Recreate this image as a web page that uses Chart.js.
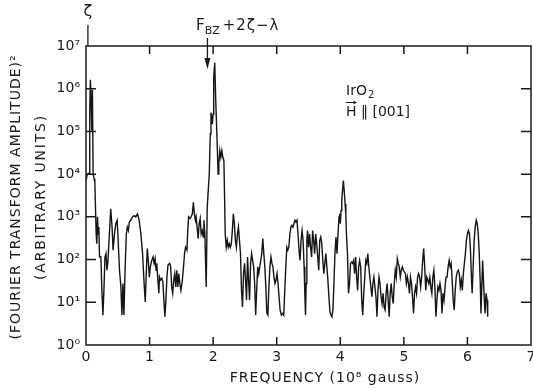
<!DOCTYPE html>
<html>
<head>
<meta charset="utf-8">
<script src="https://cdn.jsdelivr.net/npm/chart.js@4.4.1/dist/chart.umd.min.js"></script>
<style>
html,body{margin:0;padding:0;background:#fff;}
#wrap{width:533px;height:389px;position:relative;}
</style>
</head>
<body>
<div id="wrap"><canvas id="c" width="533" height="389"></canvas></div>
<script>
// Frequency (10^8 gauss)
const frequency = [
0.000,0.021,0.048,0.059,0.069,0.080,0.091,0.101,0.112,0.128,0.139,0.149,0.160,0.170,0.181,0.192,0.202,0.213,0.234,0.250,
0.266,0.282,0.298,0.314,0.330,0.346,0.368,0.389,0.410,0.426,0.448,0.469,0.490,0.506,0.527,0.549,0.565,0.581,0.597,0.613,
0.634,0.650,0.666,0.682,0.703,0.730,0.757,0.783,0.810,0.836,0.863,0.890,0.911,0.932,0.948,0.964,0.980,0.996,1.012,1.034,
1.055,1.071,1.087,1.103,1.114,1.130,1.146,1.156,1.172,1.193,1.209,1.225,1.241,1.257,1.273,1.289,1.316,1.332,1.348,1.364,
1.380,1.396,1.412,1.428,1.444,1.460,1.476,1.492,1.513,1.534,1.550,1.566,1.588,1.598,1.614,1.636,1.652,1.673,1.689,1.705,
1.721,1.732,1.748,1.764,1.780,1.796,1.812,1.828,1.844,1.854,1.870,1.891,1.907,1.923,1.939,1.955,1.966,1.977,1.987,1.998,
2.009,2.025,2.041,2.062,2.078,2.089,2.105,2.121,2.137,2.153,2.169,2.179,2.190,2.206,2.222,2.238,2.254,2.270,2.286,2.302,
2.318,2.334,2.350,2.366,2.382,2.398,2.414,2.430,2.446,2.462,2.478,2.494,2.510,2.525,2.541,2.557,2.573,2.589,2.605,2.621,
2.637,2.653,2.669,2.685,2.701,2.717,2.733,2.749,2.765,2.781,2.797,2.813,2.829,2.845,2.861,2.877,2.893,2.909,2.925,2.941,
2.957,2.973,2.989,3.005,3.021,3.037,3.053,3.074,3.095,3.111,3.127,3.143,3.159,3.175,3.191,3.207,3.223,3.239,3.255,3.271,
3.287,3.303,3.319,3.335,3.351,3.367,3.383,3.399,3.415,3.431,3.442,3.453,3.463,3.474,3.485,3.501,3.517,3.533,3.549,3.565,
3.581,3.597,3.613,3.629,3.645,3.661,3.677,3.693,3.709,3.725,3.741,3.757,3.773,3.789,3.805,3.821,3.837,3.853,3.868,3.884,
3.900,3.916,3.932,3.948,3.964,3.980,3.991,4.001,4.012,4.023,4.039,4.049,4.065,4.076,4.087,4.097,4.113,4.129,4.145,4.161,
4.177,4.193,4.209,4.225,4.241,4.257,4.273,4.289,4.305,4.321,4.337,4.353,4.369,4.385,4.401,4.417,4.433,4.449,4.465,4.481,
4.497,4.513,4.529,4.545,4.561,4.577,4.593,4.609,4.625,4.641,4.657,4.673,4.689,4.705,4.721,4.737,4.753,4.769,4.785,4.801,
4.817,4.833,4.849,4.865,4.881,4.897,4.912,4.928,4.944,4.960,4.976,4.992,5.008,5.024,5.040,5.056,5.072,5.088,5.104,5.120,
5.136,5.152,5.168,5.184,5.200,5.216,5.232,5.248,5.264,5.280,5.296,5.312,5.328,5.344,5.360,5.376,5.392,5.408,5.424,5.440,
5.456,5.472,5.488,5.504,5.520,5.536,5.552,5.568,5.584,5.600,5.616,5.632,5.648,5.664,5.680,5.696,5.712,5.728,5.744,5.760,
5.776,5.792,5.808,5.824,5.840,5.856,5.872,5.888,5.904,5.920,5.936,5.952,5.968,5.984,6.000,6.016,6.032,6.048,6.063,6.074,
6.090,6.106,6.122,6.138,6.154,6.170,6.186,6.202,6.213,6.223,6.239,6.250,6.266,6.277,6.293,6.309,6.319
];
// log10 of (Fourier transform amplitude)^2
const log10Amplitude = [
3.85,4.00,4.02,5.48,6.21,5.72,5.02,5.97,4.00,3.89,3.81,3.23,2.60,2.37,3.00,2.60,2.76,2.06,2.06,1.28,
0.70,1.28,2.06,2.14,1.75,1.98,2.60,3.19,2.76,2.22,2.60,2.84,2.92,2.45,1.75,1.36,0.70,1.44,0.70,1.67,
2.60,2.76,2.68,2.88,2.92,3.00,3.03,3.00,3.07,2.92,2.60,2.14,1.52,1.01,1.67,2.26,1.98,1.59,1.83,1.98,
2.06,1.91,2.02,1.75,1.91,1.52,1.21,1.59,1.52,1.56,1.48,1.05,0.66,1.05,1.59,1.87,1.91,1.83,1.36,1.21,
1.52,1.67,1.36,1.75,1.36,1.67,1.44,1.28,1.48,1.83,2.14,2.29,2.22,2.60,3.00,2.96,3.00,3.07,3.34,3.07,
2.92,3.00,2.76,2.49,2.84,2.96,2.60,2.68,2.53,2.92,2.60,1.36,3.23,3.62,4.00,4.94,5.44,5.33,5.17,5.40,
6.26,6.61,5.72,4.78,4.00,4.24,4.55,4.39,4.55,4.39,4.32,3.54,2.60,2.29,2.45,2.29,2.37,2.29,2.37,2.68,
3.07,2.84,2.45,2.29,2.60,2.76,2.45,2.14,1.28,0.89,1.67,1.91,1.52,1.05,2.06,1.52,1.05,1.91,2.14,1.98,
1.83,1.44,0.70,1.28,1.83,1.67,1.83,1.98,2.14,2.49,2.14,1.83,1.36,0.74,0.70,1.36,1.83,2.06,1.91,1.83,
1.59,1.44,1.52,1.67,1.44,1.13,0.82,0.70,0.74,0.70,1.28,1.83,2.29,2.22,2.29,2.60,2.76,2.80,2.76,2.84,
2.92,2.88,2.92,2.60,2.22,1.98,2.45,2.68,2.45,1.83,1.21,0.70,1.44,2.45,2.68,2.29,2.60,2.29,2.06,2.68,
2.45,2.14,2.60,2.37,2.06,1.75,2.45,2.53,2.37,1.98,1.67,1.91,2.14,1.83,1.52,1.13,0.78,0.70,0.66,0.82,
1.44,2.14,2.53,2.14,2.60,3.00,3.07,2.84,3.15,3.38,3.69,3.85,3.54,3.30,3.07,2.60,2.14,1.21,1.44,1.91,
1.94,1.91,1.98,1.67,2.06,1.59,1.28,1.83,1.98,1.83,1.05,0.70,1.21,1.59,1.98,1.91,2.14,1.83,1.59,1.36,
1.13,1.44,1.59,1.36,1.13,0.66,1.28,1.59,1.44,1.13,0.97,1.21,0.89,0.82,1.21,1.44,1.05,0.66,1.21,1.44,
1.13,0.97,1.44,1.75,1.59,2.02,1.91,1.83,1.59,1.75,1.83,1.75,1.71,1.67,1.44,1.59,1.44,1.21,1.59,1.44,
1.13,0.74,1.21,1.36,1.21,1.59,1.67,1.59,1.36,1.59,1.98,2.26,1.83,1.28,1.59,1.52,1.44,1.59,1.36,1.21,
1.59,1.75,1.36,0.66,1.05,1.36,1.28,1.44,1.28,0.74,1.21,1.05,1.36,1.59,1.59,1.83,1.98,1.83,1.91,1.52,
1.05,0.82,1.28,1.59,1.71,1.75,1.67,1.36,1.52,1.28,1.67,1.91,2.14,2.45,2.60,2.68,2.60,2.22,1.59,1.21,
1.83,2.45,2.76,2.92,2.84,2.60,2.14,1.44,0.74,1.21,1.98,1.59,1.05,0.74,1.21,1.05,0.66
];
const xTickValues = [0,1,2,3,4,5,6,7];
const yTickValues = [1,10,100,1000,10000,100000,1000000,10000000];
const yTickLabels = ['10\u2070','10\u00b9','10\u00b2','10\u00b3','10\u2074','10\u2075','10\u2076','10\u2077'];

const points = frequency.map((f,i)=>({x:f, y:Math.pow(10, log10Amplitude[i])}));
const FONT = '"DejaVu Sans", sans-serif';

const decor = {
  id:'decor',
  afterDraw(chart){
    const {ctx, chartArea:a, scales:{x,y}} = chart;
    ctx.save();
    ctx.strokeStyle = '#1a1a1a';
    ctx.lineWidth = 1.5;
    ctx.strokeRect(a.left, a.top, a.right-a.left, a.bottom-a.top);
    ctx.beginPath();
    xTickValues.slice(1,-1).forEach(v=>{
      const px = x.getPixelForValue(v);
      ctx.moveTo(px, a.bottom); ctx.lineTo(px, a.bottom-8);
      ctx.moveTo(px, a.top); ctx.lineTo(px, a.top+8);
    });
    yTickValues.slice(1,-1).forEach(v=>{
      const py = y.getPixelForValue(v);
      ctx.moveTo(a.left, py); ctx.lineTo(a.left+10, py);
      ctx.moveTo(a.right, py); ctx.lineTo(a.right-10, py);
    });
    ctx.stroke();

    ctx.fillStyle = '#1a1a1a';
    // y axis title (two lines)
    ctx.save();
    ctx.translate(16, 197);
    ctx.rotate(-Math.PI/2);
    ctx.textAlign='center'; ctx.textBaseline='middle';
    ctx.font = '14px '+FONT;
    ctx.letterSpacing = '1px';
    ctx.fillText('(FOURIER TRANSFORM AMPLITUDE)\u00b2', 0, 0);
    ctx.letterSpacing = '1.8px';
    ctx.fillText('(ARBITRARY UNITS)', 0, 25);
    ctx.restore();

    // x axis title
    ctx.textAlign='center'; ctx.textBaseline='middle';
    ctx.font = '14px '+FONT;
    ctx.letterSpacing = '1px';
    ctx.fillText('FREQUENCY (10\u2078 gauss)', 325, 378);
    ctx.letterSpacing = '0px';

    // zeta marker
    const zx = x.getPixelForValue(0.03);
    ctx.font = '16px '+FONT;
    ctx.fillText('\u03b6', zx, 12);
    ctx.beginPath();
    ctx.lineWidth = 1.3;
    ctx.moveTo(zx, 25); ctx.lineTo(zx, a.top);
    ctx.stroke();

    // F_BZ + 2ζ − λ
    ctx.textAlign='left';
    ctx.font = '15px '+FONT;
    let tx = 196;
    ctx.fillText('F', tx, 26);
    tx += ctx.measureText('F').width;
    ctx.font = '11px '+FONT;
    ctx.fillText('BZ', tx, 31);
    tx += ctx.measureText('BZ').width + 3;
    ctx.font = '15px '+FONT;
    ctx.letterSpacing = '1px';
    ctx.fillText('+2\u03b6\u2212\u03bb', tx, 26);
    ctx.letterSpacing = '0px';

    // arrow
    const ax = x.getPixelForValue(1.91);
    ctx.beginPath();
    ctx.moveTo(ax, 38); ctx.lineTo(ax, 66);
    ctx.stroke();
    ctx.beginPath();
    ctx.moveTo(ax-3, 58); ctx.lineTo(ax, 69); ctx.lineTo(ax+3, 58);
    ctx.closePath(); ctx.fill();

    // sample label
    ctx.font = '14px '+FONT;
    ctx.textBaseline='alphabetic';
    ctx.fillText('IrO', 346, 95);
    const w = ctx.measureText('IrO').width;
    ctx.font = '10px '+FONT;
    ctx.fillText('2', 346+w+1, 98);
    ctx.font = '14px '+FONT;
    ctx.fillText('H \u2016 [001]', 346, 116);
    // arrow over H
    const hw = ctx.measureText('H').width;
    ctx.beginPath(); ctx.lineWidth=1;
    ctx.moveTo(346, 102.5); ctx.lineTo(346+hw, 102.5); ctx.stroke();
    ctx.beginPath();
    ctx.moveTo(346+hw, 102.5); ctx.lineTo(346+hw-3, 100.5); ctx.lineTo(346+hw-3, 104.5); ctx.closePath(); ctx.fill();
    ctx.restore();
  }
};

new Chart(document.getElementById('c'), {
  type:'line',
  data:{datasets:[{
    data:points,
    borderColor:'#151515',
    borderWidth:1.4,
    pointRadius:0,
    tension:0,
    fill:false
  }]},
  options:{
    responsive:false,
    animation:false,
    parsing:false,
    layout:{padding:{top:46,right:2,left:0,bottom:0}},
    plugins:{legend:{display:false},tooltip:{enabled:false}},
    scales:{
      x:{
        type:'linear', min:0, max:7,
        afterBuildTicks(s){ s.ticks = xTickValues.map(v=>({value:v})); },
        afterFit(s){ s.height = 44; s.paddingLeft = 0; s.paddingRight = 0; },
        grid:{display:false, drawTicks:false},
        border:{display:false},
        ticks:{color:'#1a1a1a', font:{family:FONT,size:14}, padding:4, maxRotation:0,
               callback:(v)=>String(v)}
      },
      y:{
        type:'logarithmic', min:1, max:1e7,
        afterBuildTicks(s){ s.ticks = yTickValues.map(v=>({value:v})); },
        afterFit(s){ s.width = 86; s.paddingTop = 0; s.paddingBottom = 0; },
        grid:{display:false, drawTicks:false},
        border:{display:false},
        ticks:{color:'#1a1a1a', font:{family:FONT,size:14}, padding:6,
               callback:(v)=>{ const i = yTickValues.indexOf(v); return i>=0 ? yTickLabels[i] : ''; }}
      }
    }
  },
  plugins:[decor]
});
</script>
</body>
</html>
